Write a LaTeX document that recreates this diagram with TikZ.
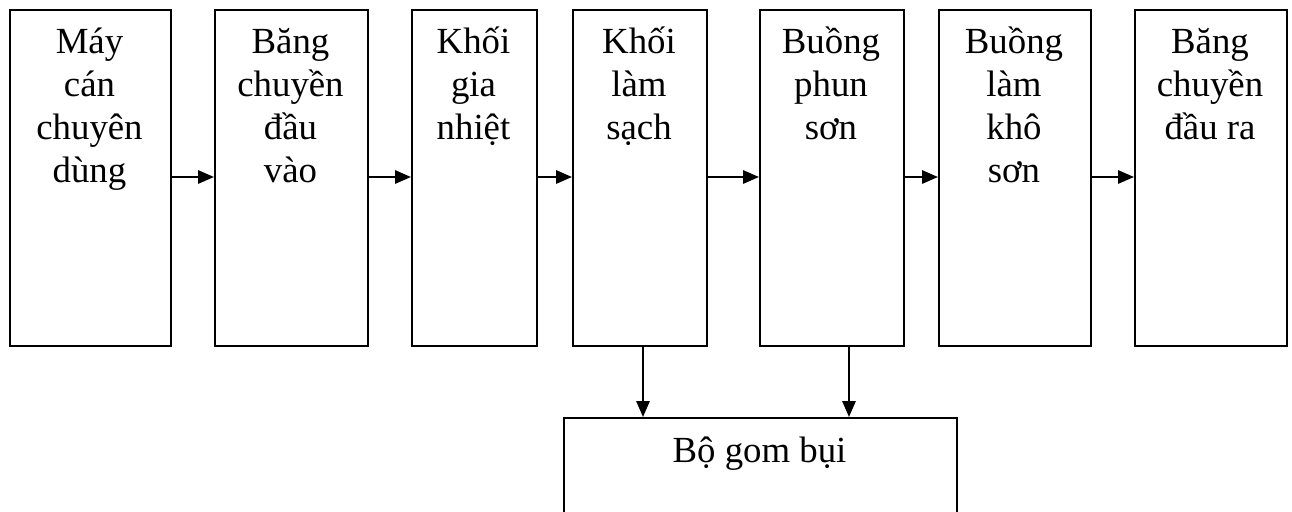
\documentclass[tikz,border=0pt]{standalone}
\usepackage{fontspec}
\setmainfont{Liberation Serif}
\usetikzlibrary{arrows.meta}
\begin{document}
\begin{tikzpicture}[x=0.75pt,y=-0.75pt,
  box/.style={draw,line width=1.5pt,rectangle,anchor=north west,inner sep=0pt},
  lbl/.style={anchor=north,inner sep=0pt,align=center,font=\fontsize{27.6pt}{32.25pt}\selectfont},
  arr/.style={line width=1.5pt,-{Triangle[length=12pt,width=10pt]}}]
\useasboundingbox (0,0) rectangle (1292,511);
\clip (0,0) rectangle (1292,511);
% boxes
\node[box,minimum width=161*0.75pt,minimum height=336*0.75pt] (b1) at (9,9) {};
\node[box,minimum width=153*0.75pt,minimum height=336*0.75pt] (b2) at (214,9) {};
\node[box,minimum width=125*0.75pt,minimum height=336*0.75pt] (b3) at (411,9) {};
\node[box,minimum width=134*0.75pt,minimum height=336*0.75pt] (b4) at (572,9) {};
\node[box,minimum width=144*0.75pt,minimum height=336*0.75pt] (b5) at (759,9) {};
\node[box,minimum width=152*0.75pt,minimum height=336*0.75pt] (b6) at (938,9) {};
\node[box,minimum width=152*0.75pt,minimum height=336*0.75pt] (b7) at (1134,9) {};
\node[box,minimum width=393*0.75pt,minimum height=130*0.75pt] (gom) at (563,417) {};
% labels
\node[lbl] (t1) at (89.5,17) {\rule{0pt}{27pt}Máy\\cán\\chuyên\\dùng};
\node[lbl] (t2) at (290.5,17) {\rule{0pt}{27pt}Băng\\chuyền\\đầu\\vào};
\node[lbl] (t3) at (473.5,17) {\rule{0pt}{27pt}Khối\\gia\\nhiệt};
\node[lbl] (t4) at (639,17) {\rule{0pt}{27pt}Khối\\làm\\sạch};
\node[lbl] (t5) at (831,17) {\rule{0pt}{27pt}Buồng\\phun\\sơn};
\node[lbl] (t6) at (1014,17) {\rule{0pt}{27pt}Buồng\\làm\\khô\\sơn};
\node[lbl] (t7) at (1210,17) {\rule{0pt}{27pt}Băng\\chuyền\\đầu ra};
\node[lbl] (t8) at (759.5,426) {\rule{0pt}{27pt}Bộ gom bụi};
% arrows
\coordinate (ay) at (0,177);
\draw[arr] (b1.east |- ay) -- (b2.west |- ay);
\draw[arr] (b2.east |- ay) -- (b3.west |- ay);
\draw[arr] (b3.east |- ay) -- (b4.west |- ay);
\draw[arr] (b4.east |- ay) -- (b5.west |- ay);
\draw[arr] (b5.east |- ay) -- (b6.west |- ay);
\draw[arr] (b6.east |- ay) -- (b7.west |- ay);
\coordinate (c1) at (643,0);
\coordinate (c2) at (849,0);
\draw[arr] (c1 |- b4.south) -- (c1 |- gom.north);
\draw[arr] (c2 |- b5.south) -- (c2 |- gom.north);
\end{tikzpicture}
\end{document}
